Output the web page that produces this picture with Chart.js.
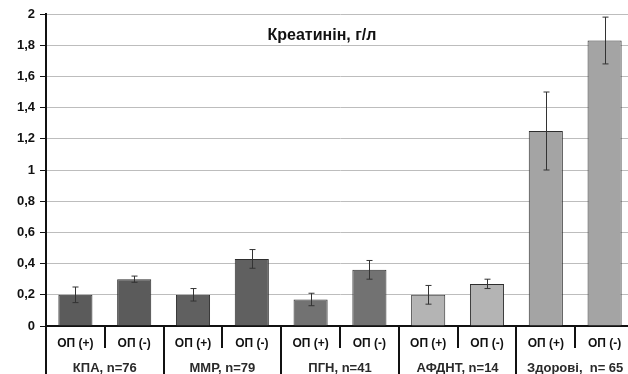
<!DOCTYPE html>
<html>
<head>
<meta charset="utf-8">
<script src="https://cdn.jsdelivr.net/npm/chart.js@4/dist/chart.umd.min.js"></script>
<style>
  html, body { margin: 0; padding: 0; background: #fff; overflow: hidden; }
  #wrap { position: absolute; left: 0; top: 0; width: 634px; height: 374px; }
</style>
</head>
<body>
<div id="wrap"><canvas id="chart"></canvas></div>
<script>
const TITLE = 'Креатинін, г/л';
const barLabels = ['ОП (+)', 'ОП (-)', 'ОП (+)', 'ОП (-)', 'ОП (+)', 'ОП (-)', 'ОП (+)', 'ОП (-)', 'ОП (+)', 'ОП (-)'];
const groups = ['КПА, n=76', 'ММР, n=79', 'ПГН, n=41', 'АФДНТ, n=14', 'Здорові,  n= 65'];
const values = [0.20, 0.30, 0.20, 0.43, 0.17, 0.36, 0.20, 0.27, 1.25, 1.83];
const errLow = [0.15, 0.28, 0.16, 0.37, 0.13, 0.30, 0.14, 0.24, 1.00, 1.68];
const errHigh = [0.25, 0.32, 0.24, 0.49, 0.21, 0.42, 0.26, 0.30, 1.50, 1.98];
const barColors = ['#5b5b5b', '#5b5b5b', '#606060', '#606060', '#727272', '#727272', '#b4b4b4', '#b4b4b4', '#a4a4a4', '#a4a4a4'];

// error bars, separators, group labels, title
const extras = {
    id: 'extras',
    afterDatasetsDraw(chart) {
        const ctx = chart.ctx;
        const x = chart.scales.x;
        const y = chart.scales.y;
        const area = chart.chartArea;
        ctx.save();

        ctx.strokeStyle = '#333';
        ctx.lineWidth = 1;
        values.forEach((v, i) => {
            const px = Math.round(x.getPixelForValue(i)) + 0.5;
            const yl = y.getPixelForValue(errLow[i]);
            const yh = y.getPixelForValue(errHigh[i]);
            ctx.beginPath();
            ctx.moveTo(px, yl); ctx.lineTo(px, yh);
            ctx.moveTo(px - 3, yl); ctx.lineTo(px + 3, yl);
            ctx.moveTo(px - 3, yh); ctx.lineTo(px + 3, yh);
            ctx.stroke();
        });

        ctx.strokeStyle = '#111';
        ctx.lineWidth = 2;
        for (let i = 0; i < values.length - 1; i++) {
            const sx = Math.round((x.getPixelForValue(i) + x.getPixelForValue(i + 1)) / 2);
            const full = i % 2 === 1;
            ctx.beginPath();
            ctx.moveTo(sx, area.bottom);
            ctx.lineTo(sx, full ? chart.height : area.bottom + 22);
            ctx.stroke();
        }
        ctx.beginPath();
        ctx.moveTo(area.left, area.bottom);
        ctx.lineTo(area.left, chart.height);
        ctx.stroke();

        ctx.fillStyle = '#2a2a2a';
        ctx.font = 'bold 13px "Liberation Sans", Arial, sans-serif';
        ctx.textAlign = 'center';
        ctx.textBaseline = 'middle';
        groups.forEach((g, k) => {
            const gx = (x.getPixelForValue(2 * k) + x.getPixelForValue(2 * k + 1)) / 2;
            ctx.fillText(g, gx, 368);
        });

        ctx.fillStyle = '#111';
        ctx.font = 'bold 16px "Liberation Sans", Arial, sans-serif';
        ctx.fillText(TITLE, 322, 36);
        ctx.restore();
    }
};

new Chart(document.getElementById('chart'), {
    type: 'bar',
    data: {
        labels: barLabels,
        datasets: [{
            data: values,
            backgroundColor: barColors,
            borderColor: '#2e2e2e',
            borderWidth: 1,
            barPercentage: 0.58,
            categoryPercentage: 1
        }]
    },
    options: {
        responsive: true,
        maintainAspectRatio: false,
        animation: false,
        devicePixelRatio: 1,
        layout: { padding: { top: 14, left: 0, right: 0, bottom: 0 } },
        plugins: {
            legend: { display: false },
            tooltip: { enabled: false }
        },
        scales: {
            x: {
                grid: { display: false },
                border: { display: true, color: '#111', width: 2 },
                ticks: {
                    color: '#111',
                    font: { family: '"Liberation Sans", Arial, sans-serif', size: 12, weight: 'bold' },
                    padding: 2,
                    maxRotation: 0,
                    autoSkip: false
                },
                afterFit(scale) { scale.height = 48; }
            },
            y: {
                min: 0,
                max: 2,
                grid: { color: '#bdbdbd', lineWidth: 1, tickLength: 6, tickColor: '#111' },
                border: { display: true, color: '#111', width: 2 },
                ticks: {
                    stepSize: 0.2,
                    color: '#111',
                    padding: 5,
                    font: { family: '"Liberation Sans", Arial, sans-serif', size: 13, weight: 'bold' },
                    callback: v => String(Math.round(v * 10) / 10).replace('.', ',')
                },
                afterFit(scale) { scale.width = 46; }
            }
        }
    },
    plugins: [extras]
});
</script>
</body>
</html>
